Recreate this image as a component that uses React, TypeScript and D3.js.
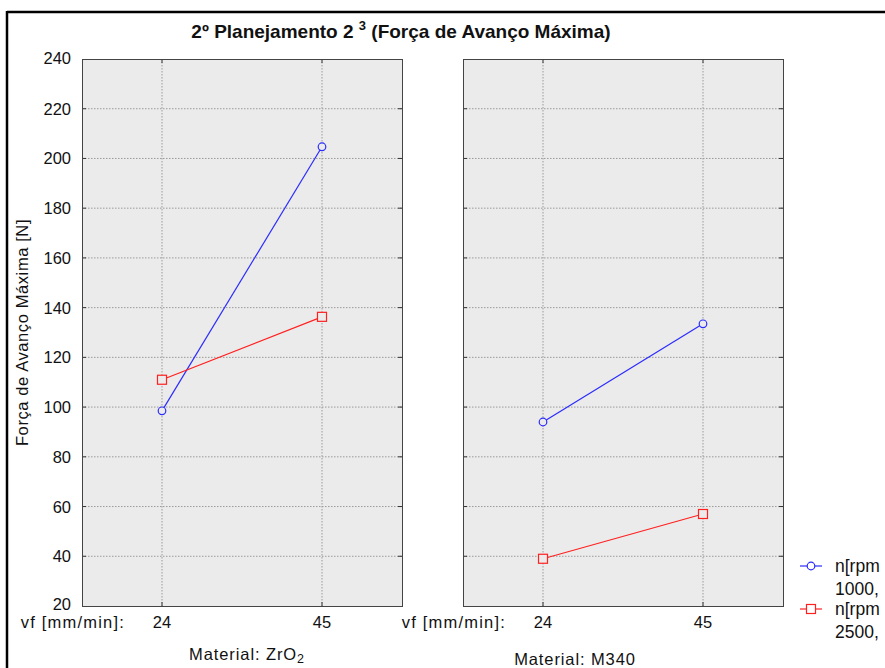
import React from "react";
import * as d3 from "d3";

const title = "2º Planejamento 2";
const titleSup = "3";
const titleRest = " (Força de Avanço Máxima)";
const yLabel = "Força de Avanço Máxima [N]";
const xLabelPrefix = "vf [mm/min]:";
const categories = ["24", "45"];
const yTicks = [20, 40, 60, 80, 100, 120, 140, 160, 180, 200, 220, 240];
const panels = ["ZrO", "M340"];
const panelSub = ["2", ""];
const seriesNames = ["n[rpm", "n[rpm"];
const seriesLevels = ["1000,", "2500,"];
const seriesColors = ["#2b2bff", "#ff2020"];
const zro2_1000 = [98.5, 204.7];
const zro2_2500 = [111, 136.3];
const m340_1000 = [94, 133.5];
const m340_2500 = [39, 57];

const W = 885;
const H = 668;
const FONT = "Liberation Sans, Arial, sans-serif";
const FS = 16.5;

const panelX = [82, 463];
const panelW = 320;
const top = 59;
const bottom = 606;

const y = d3.scaleLinear().domain([20, 240]).range([bottom, top]);

const data = [
  [zro2_1000, zro2_2500],
  [m340_1000, m340_2500],
];

function Panel({ idx }: { idx: number }) {
  const x0 = panelX[idx];
  const x = d3.scalePoint<string>().domain(categories).range([x0, x0 + panelW]).padding(0.5);
  const line = d3
    .line<number>()
    .x((_, i) => x(categories[i]) as number)
    .y((v) => y(v));
  const inner = yTicks.filter((t) => t !== 20 && t !== 240);
  return (
    <g>
      <rect x={x0} y={top} width={panelW} height={bottom - top} fill="#ebebeb" />
      {inner.map((t) => (
        <line key={"g" + t} x1={x0} x2={x0 + panelW} y1={y(t)} y2={y(t)} stroke="#9a9a9a" strokeDasharray="1.5,1.5" />
      ))}
      {categories.map((c) => (
        <line key={"v" + c} x1={x(c)} x2={x(c)} y1={top} y2={bottom} stroke="#9a9a9a" strokeDasharray="1.5,1.5" />
      ))}
      {inner.map((t) => (
        <g key={"t" + t}>
          <line x1={x0} x2={x0 + 4} y1={y(t)} y2={y(t)} stroke="#333" />
          <line x1={x0 + panelW - 4} x2={x0 + panelW} y1={y(t)} y2={y(t)} stroke="#333" />
        </g>
      ))}
      {categories.map((c) => (
        <g key={"tx" + c}>
          <line x1={x(c)} x2={x(c)} y1={bottom} y2={bottom - 4} stroke="#333" />
          <line x1={x(c)} x2={x(c)} y1={top} y2={top + 4} stroke="#333" />
        </g>
      ))}
      <rect x={x0 + 0.5} y={top + 0.5} width={panelW} height={bottom - top} fill="none" stroke="#444" />
      {data[idx].map((s, si) => (
        <g key={"s" + si}>
          <path d={line(s) as string} fill="none" stroke={seriesColors[si]} strokeWidth={1.2} />
          {s.map((v, i) =>
            si === 0 ? (
              <circle key={i} cx={x(categories[i])} cy={y(v)} r={3.8} fill="#ebebeb" stroke={seriesColors[si]} strokeWidth={1.2} />
            ) : (
              <rect key={i} x={(x(categories[i]) as number) - 4.5} y={y(v) - 4.5} width={9} height={9} fill="#ebebeb" stroke={seriesColors[si]} strokeWidth={1.2} />
            )
          )}
        </g>
      ))}
      {categories.map((c) => (
        <text key={"l" + c} x={x(c)} y={628} textAnchor="middle" fontSize={FS} fontFamily={FONT} fill="#111">
          {c}
        </text>
      ))}
      <text x={idx === 0 ? 125 : 506} y={628} textAnchor="end" fontSize={FS} fontFamily={FONT} fill="#111" letterSpacing={1.2}>
        {xLabelPrefix}
      </text>
      <text x={idx === 0 ? 247 : 575} y={idx === 0 ? 660 : 665} textAnchor="middle" fontSize={FS} fontFamily={FONT} fill="#111" letterSpacing={0.9}>
        {"Material: " + panels[idx]}
        {panelSub[idx] && (
          <tspan dy={3} fontSize={12.5}>
            {panelSub[idx]}
          </tspan>
        )}
      </text>
    </g>
  );
}

export default function App() {
  return (
    <svg width={W} height={H} style={{ position: "absolute", left: 0, top: 0, background: "#fff", overflow: "hidden" }}>
      <rect x={0} y={0} width={W} height={H} fill="#fff" />
      <line x1={7} x2={W} y1={12} y2={12} stroke="#000" strokeWidth={2.5} />
      <line x1={7} x2={7} y1={11} y2={H} stroke="#000" strokeWidth={2.5} />
      <text x={401} y={38} textAnchor="middle" fontSize={19} fontWeight="bold" fontFamily={FONT} fill="#111">
        {title + " "}
        <tspan dy={-8} fontSize={13}>
          {titleSup}
        </tspan>
        <tspan dy={8}>{titleRest}</tspan>
      </text>
      {yTicks.map((t) => (
        <text key={t} x={71} y={y(t) + (t === 20 ? 4 : t === 240 ? 5 : 6)} textAnchor="end" fontSize={FS} fontFamily={FONT} fill="#111">
          {t}
        </text>
      ))}
      <text transform={`translate(28,${(top + bottom) / 2}) rotate(-90)`} textAnchor="middle" fontSize={FS} fontFamily={FONT} fill="#111" letterSpacing={0.6}>
        {yLabel}
      </text>
      <Panel idx={0} />
      <Panel idx={1} />
      {seriesNames.map((n, i) => {
        const ly = 566 + i * 43;
        return (
          <g key={"lg" + i}>
            <line x1={800} x2={822} y1={ly} y2={ly} stroke={seriesColors[i]} strokeWidth={1.2} />
            {i === 0 ? (
              <circle cx={811} cy={ly} r={3.8} fill="#fff" stroke={seriesColors[i]} strokeWidth={1.2} />
            ) : (
              <rect x={806.5} y={ly - 4.5} width={9} height={9} fill="#fff" stroke={seriesColors[i]} strokeWidth={1.2} />
            )}
            <text x={835} y={ly + 6} fontSize={17.5} fontFamily={FONT} fill="#111">
              {n}
            </text>
            <text x={835} y={ly + 29} fontSize={17.5} fontFamily={FONT} fill="#111">
              {seriesLevels[i]}
            </text>
          </g>
        );
      })}
    </svg>
  );
}
